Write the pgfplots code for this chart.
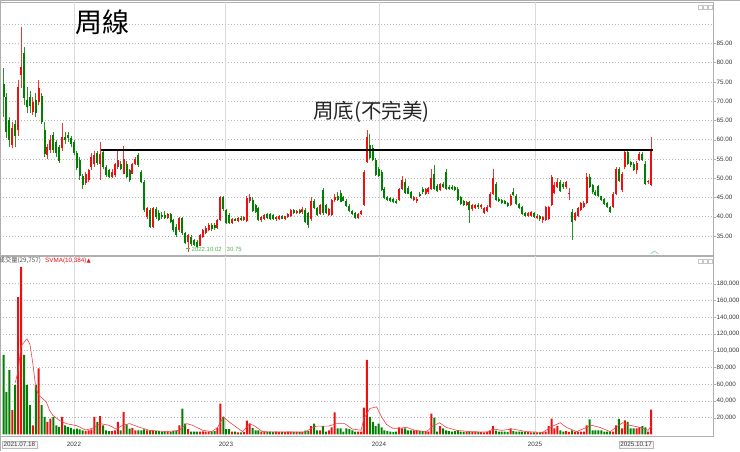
\documentclass[border=0pt]{standalone}
\usepackage{fontspec}
\setmainfont{Liberation Sans}
\newfontfamily\cjk{Noto Sans CJK TC}
\newfontfamily\dejavu{DejaVu Sans}
\usepackage{pgfplots}
\usepackage{pgfplotstable}
\pgfplotsset{compat=1.18}
\definecolor{cred}{RGB}{238,16,16}
\definecolor{cgrn}{RGB}{0,128,0}
\definecolor{gridgray}{RGB}{185,185,185}
\definecolor{framegray}{RGB}{175,175,175}
\definecolor{lowgrn}{RGB}{80,180,80}

% weekly candles: week index, open, high, low, close, volume (thousand lots)
\pgfplotstableread{
i O H L C V
0 74.5 78.5 66.0 71.0 95
1 71.0 72.0 60.5 62.0 51
2 65.0 66.0 58.0 60.0 77
3 58.5 64.5 57.8 63.0 29
4 64.0 65.0 58.0 61.0 59
5 62.5 75.5 61.0 73.7 164
6 76.8 89.3 73.5 78.9 200
7 82.4 84.0 69.0 70.7 95
8 70.3 73.7 66.8 68.6 59
9 71.0 72.5 67.0 68.8 35
10 67.3 71.0 66.5 69.9 11
11 70.3 72.0 66.0 66.8 59
12 69.9 75.5 69.0 73.3 79
13 71.2 72.0 64.0 64.7 35
14 62.5 64.7 55.6 56.4 21
15 56.0 59.0 54.9 58.2 15
16 57.3 61.2 56.5 59.9 19
17 61.2 62.0 56.5 57.3 21
18 59.5 60.0 55.5 56.5 11
19 58.0 58.5 54.0 54.5 9
20 57.9 64.3 57.0 60.7 21
21 60.8 62.0 59.0 60.0 11
22 61.2 62.0 59.5 60.5 9
23 60.5 61.0 58.0 59.0 8
24 59.5 60.0 56.0 56.5 6
25 56.5 57.0 52.0 52.7 7
26 54.7 55.5 49.5 50.5 6
27 50.5 51.0 47.3 48.3 5
28 48.8 51.5 48.3 51.0 4
29 49.5 52.5 49.0 52.1 5
30 53.0 56.5 52.0 55.6 6
31 53.8 57.0 53.0 56.0 21
32 56.5 57.0 53.5 54.0 15
33 53.8 59.5 49.5 56.4 22
34 56.9 57.3 52.5 53.0 11
35 53.0 53.5 50.3 50.8 5
36 52.1 52.5 50.0 50.4 4
37 50.4 52.5 50.0 51.7 4
38 50.8 54.0 50.3 53.8 5
39 53.0 57.3 52.5 54.7 15
40 53.8 54.5 52.0 52.5 5
41 51.2 58.4 51.0 55.1 27
42 53.8 54.5 50.0 50.4 12
43 52.1 52.5 49.0 49.5 7
44 51.2 54.0 51.0 53.8 8
45 53.8 55.5 53.5 55.1 5
46 56.0 56.6 53.0 53.4 5
47 51.7 52.0 48.8 49.1 5
48 49.1 49.5 41.3 41.7 6
49 40.0 42.5 39.5 42.2 5
50 41.7 42.2 37.0 37.4 5
51 37.4 42.5 37.0 42.2 4
52 42.0 42.5 39.5 40.0 4
53 40.9 41.8 38.8 39.1 4
54 40.5 41.3 39.5 40.0 3
55 40.4 41.5 39.5 39.6 3
56 39.6 41.0 39.3 40.8 3
57 40.6 41.0 38.3 38.6 3
58 39.1 39.5 36.0 36.5 4
59 37.4 38.0 34.8 35.2 4
60 36.5 40.0 36.0 39.6 11
61 39.6 40.0 35.3 35.7 31
62 35.7 36.0 32.8 33.1 13
63 33.5 35.6 30.75 35.2 6.5
64 34.8 35.2 32.5 32.9 3.5
65 33.9 34.2 32.3 32.7 3.4
66 33.5 34.0 31.8 32.2 3.3
67 32.5 35.5 32.3 35.2 3.5
68 34.8 36.8 34.5 36.5 3.6
69 35.8 37.5 35.5 37.1 3.4
70 36.5 38.3 36.2 37.8 3.5
71 37.8 38.5 36.3 36.8 3.4
72 37.8 38.3 36.5 37.0 4
73 37.0 39.5 36.8 39.1 8
74 39.1 45.5 38.8 45.2 37
75 45.2 45.5 41.5 42.0 21
76 41.7 42.0 38.0 38.3 6.5
77 40.5 41.0 38.0 38.5 6.5
78 38.5 39.6 38.2 39.3 3.4
79 39.4 39.8 38.8 39.0 3.4
80 39.0 40.0 38.7 39.8 2.6
81 39.8 40.1 39.0 39.2 2.6
82 39.2 40.2 38.9 40.0 3
83 39.0 45.5 38.7 44.8 16.5
84 44.0 45.8 43.6 45.0 13
85 44.3 45.2 41.2 41.4 7.5
86 43.0 43.3 41.0 41.3 5
87 42.2 42.5 38.8 39.1 5
88 39.1 40.3 38.7 40.0 3.5
89 39.5 40.6 39.2 40.4 3.3
90 40.8 41.0 39.5 39.8 3.2
91 40.6 40.9 39.2 39.5 3.3
92 40.4 40.7 39.2 39.5 3.0
93 39.3 40.3 39.0 40.0 3.4
94 39.4 40.4 39.1 40.1 3.2
95 40.2 40.5 39.3 39.5 3.0
96 39.5 40.3 39.2 40.1 3.1
97 40.0 41.0 39.7 40.6 3.3
98 40.3 41.9 40.0 41.7 3.4
99 41.7 42.0 40.8 41.0 3.0
100 41.0 41.8 40.8 41.5 3.2
101 41.7 42.0 40.8 41.0 2.9
102 41.1 42.5 40.8 42.0 3.2
103 41.7 42.2 38.5 38.7 4.5
104 40.9 41.3 37.0 37.8 4.0
105 39.5 45.0 39.0 44.2 10
106 44.2 44.5 42.0 42.3 13
107 42.2 42.5 40.2 40.4 5
108 40.8 43.2 40.5 43.0 5
109 46.9 47.5 40.5 40.9 10
110 43.0 43.4 40.8 41.0 3.4
111 40.4 42.3 40.1 42.0 5
112 40.4 44.6 40.1 44.3 8.6
113 44.3 46.0 43.8 45.2 26.5
114 45.5 46.3 44.0 44.3 7.4
115 46.1 47.0 43.7 43.9 7.4
116 45.0 45.5 44.0 44.2 3.4
117 44.2 44.5 42.6 42.9 7.4
118 42.9 43.2 41.2 41.5 6.5
119 41.5 41.8 40.5 40.7 5
120 40.9 41.2 39.5 39.8 3.4
121 39.6 41.0 39.3 40.8 3.4
122 40.8 41.7 40.4 41.5 3.4
123 43.0 52.0 42.7 51.7 32
124 54.3 62.5 54.0 60.8 89
125 58.6 61.5 55.0 55.3 21
126 57.8 58.5 54.5 54.8 15
127 54.7 55.3 50.5 50.8 10
128 52.5 53.0 50.3 50.6 13
129 51.7 52.0 46.6 46.9 8.6
130 47.3 47.6 44.5 44.8 5
131 45.2 45.5 44.0 44.3 4
132 44.8 45.1 43.9 44.2 3.4
133 44.5 44.8 43.6 43.9 3
134 44.2 44.5 43.3 43.6 3.4
135 44.3 47.5 44.0 47.3 8.6
136 47.3 50.5 47.0 49.5 7.4
137 49.1 49.8 45.8 46.1 7.4
138 47.5 48.0 45.8 46.0 5
139 46.5 46.8 44.5 44.8 5
140 44.3 45.5 44.0 45.2 5
141 44.0 45.0 43.5 44.6 4.5
142 46.0 46.3 45.0 45.3 4
143 47.3 47.6 46.0 46.3 4
144 46.0 47.5 45.7 47.3 3.5
145 46.3 47.8 46.0 47.5 3.5
146 47.3 52.5 47.0 50.0 25
147 51.2 53.5 47.0 47.3 20
148 48.0 48.5 46.5 46.8 3.4
149 47.0 48.8 46.7 48.5 10
150 48.5 49.0 47.5 47.7 7.4
151 51.5 52.5 47.0 47.3 5
152 47.8 48.3 47.0 47.3 4
153 47.8 48.2 47.0 47.2 3.4
154 47.8 48.0 46.8 47.0 4
155 47.3 47.6 44.0 44.3 5
156 45.0 45.3 43.0 43.3 3.4
157 44.0 44.3 42.8 43.0 3
158 43.0 44.0 42.7 43.8 3
159 43.9 44.2 38.5 41.7 3.4
160 42.0 43.4 41.6 43.0 3
161 42.2 43.2 42.0 43.0 3
162 43.0 43.5 42.0 42.4 2.8
163 42.4 43.3 42.0 43.1 2.8
164 41.0 42.5 40.7 42.2 2.6
165 41.5 43.0 41.2 42.6 3
166 42.6 46.3 42.3 46.0 4
167 46.0 52.5 45.7 50.0 10
168 48.5 49.0 44.0 44.3 4.5
169 44.6 45.0 43.8 44.0 3.4
170 44.3 44.6 43.3 43.6 3.4
171 44.0 44.3 43.2 43.4 3.4
172 43.6 43.9 42.6 42.9 3
173 43.0 45.8 42.7 45.5 7.4
174 46.3 47.5 45.3 45.6 4
175 45.5 45.8 43.0 43.3 3.4
176 43.3 43.6 42.0 42.3 3.4
177 42.5 42.8 40.5 40.8 3.4
178 41.0 41.3 40.0 40.3 3
179 40.3 41.3 40.0 41.0 2.8
180 40.3 41.5 40.0 41.2 2.6
181 41.0 41.3 39.7 40.0 2.6
182 39.6 40.6 39.3 40.3 2.6
183 40.2 40.5 39.0 39.3 2.6
184 39.2 40.2 38.3 40.0 2.8
185 39.2 42.8 38.9 42.5 3.4
186 39.5 42.8 39.2 42.6 10
187 43.0 50.7 42.7 50.4 19
188 46.1 49.0 45.8 48.2 7.4
189 47.8 50.0 47.5 49.1 10
190 49.1 49.5 46.3 46.6 5
191 48.5 49.0 47.3 47.6 3.4
192 47.6 49.4 47.3 49.1 4
193 45.8 47.5 44.3 46.2 3
194 41.3 42.0 34.0 38.7 5
195 39.1 41.2 38.8 40.9 3.4
196 40.2 42.5 39.9 42.2 3.4
197 41.7 43.8 41.4 43.5 3.4
198 42.5 44.0 42.2 43.6 3.4
199 43.5 51.3 43.2 50.4 11
200 50.4 51.0 47.5 47.8 18
201 48.3 48.6 46.0 46.3 5
202 46.5 47.0 45.3 45.6 5
203 48.0 48.2 45.0 45.3 5
204 45.3 45.5 44.1 44.3 5
205 44.6 44.9 43.1 43.4 3.4
206 43.5 43.8 42.3 42.6 3.4
207 42.5 42.8 41.0 41.3 3.4
208 42.6 46.3 42.3 46.0 3.4
209 46.0 53.0 45.7 52.5 11
210 52.5 53.0 49.0 49.2 18.5
211 47.0 51.5 46.5 51.2 7.4
212 53.0 57.5 52.5 56.9 17
213 56.9 57.7 53.5 53.8 15
214 54.2 54.5 53.0 53.3 7.4
215 53.8 54.1 51.8 52.1 7.4
216 52.1 54.5 51.0 54.0 7.4
217 54.7 56.8 54.4 56.4 8.6
218 56.4 56.8 54.4 54.7 10
219 53.8 54.5 48.3 48.6 8.6
220 48.9 49.5 48.5 49.2 3.4
221 48.2 60.8 48.0 57.7 29.757
}\candles

\pgfplotsset{
  chartbase/.style={
    scale only axis, anchor=south west, width=713pt,
    xmin=-1.2, xmax=242.1,
    axis line style={draw=framegray},
    xtick=\empty,
    ymajorgrids,
    y grid style={gridgray, dash pattern=on 1pt off 2pt, line width=0.6pt},
    ytick pos=right, yticklabel pos=right,
    tick align=outside, major tick length=2.5pt,
    y tick style={framegray},
    tick label style={font=\fontsize{6.3}{7}\selectfont, text=black!78},
    yticklabel style={inner sep=1pt, anchor=west},
    /pgf/number format/assume math mode=true,
  },
  wick/.style={draw=none, mark=none, forget plot,
    error bars/.cd, y dir=plus, y explicit, error mark=none,
    error bar style={line width=0.7pt, draw=#1}},
  body/.style={draw=none, mark=none, forget plot,
    error bars/.cd, y dir=plus, y explicit, error mark=none,
    error bar style={line width=2pt, draw=#1}},
}

\begin{document}
\begin{tikzpicture}[x=1pt,y=1pt]
\path[use as bounding box] (0,0) rectangle (740,451);
\clip (0,0) rectangle (740,451);
\fill[white] (0,0) rectangle (740,451);

%% price panel
\begin{axis}[chartbase, at={(0pt,196pt)}, height=253pt,
    ymin=30.07, ymax=95.72,
    ytick={35,40,...,85},
    yticklabels={35.00,40.00,45.00,50.00,55.00,60.00,65.00,70.00,75.00,80.00,85.00},
  ]
  \foreach \yr in {24.06,75.6,128.3,181.4}{
    \edef\tmp{\noexpand\draw[gray!28, line width=0.6pt] (axis cs:\yr,30.07) -- (axis cs:\yr,95.72);}
    \tmp
  }
  \addplot[gridgray, dash pattern=on 1pt off 2pt, line width=0.6pt, forget plot]
    coordinates {(-1.2,90) (242.1,90)};
  % wicks
  \addplot[wick=cred!85] table[x=i,
      y expr={\thisrow{C}>=\thisrow{O} ? \thisrow{L} : nan},
      y error plus expr={\thisrow{H}-\thisrow{L}}] {\candles};
  \addplot[wick=cgrn!85] table[x=i,
      y expr={\thisrow{C}<\thisrow{O} ? \thisrow{L} : nan},
      y error plus expr={\thisrow{H}-\thisrow{L}}] {\candles};
  % bodies
  \addplot[body=cred] table[x=i,
      y expr={\thisrow{C}>=\thisrow{O} ? \thisrow{O} : nan},
      y error plus expr={\thisrow{C}-\thisrow{O}}] {\candles};
  \addplot[body=cgrn] table[x=i,
      y expr={\thisrow{C}<\thisrow{O} ? \thisrow{C} : nan},
      y error plus expr={\thisrow{O}-\thisrow{C}}] {\candles};
  % neckline
  \addplot[black, line width=1.2pt, forget plot] coordinates {(33.4,57.3) (221.5,57.3)};
\end{axis}

%% volume panel
\begin{axis}[chartbase, at={(0pt,15pt)}, height=180pt,
    ymin=-1.8, ymax=213.1,
    ytick={20,40,...,180},
    yticklabels={{20,000},{40,000},{60,000},{80,000},{100,000},{120,000},{140,000},{160,000},{180,000}},
  ]
  \foreach \yr in {24.06,75.6,128.3,181.4}{
    \edef\tmp{\noexpand\draw[gray!28, line width=0.6pt] (axis cs:\yr,-1.8) -- (axis cs:\yr,213.1);}
    \tmp
  }
  \addplot[ybar, bar width=2pt, bar shift=0pt, fill=cred, draw=none, forget plot]
    table[x=i, y expr={\thisrow{C}>=\thisrow{O} ? \thisrow{V} : nan}] {\candles};
  \addplot[ybar, bar width=2pt, bar shift=0pt, fill=cgrn, draw=none, forget plot]
    table[x=i, y expr={\thisrow{C}<\thisrow{O} ? \thisrow{V} : nan}] {\candles};
  % SVMA
  \addplot[cred!80, line width=0.6pt, forget plot] coordinates {
    (4,62) (5,76) (6,106) (7,110) (8,114) (9,108) (10,85) (11,56) (12,47) (13,44)
    (14.6,39) (15.7,29) (16.8,23) (19,17) (21.4,13) (25,10.5) (28,5.4) (30.4,7.4)
    (33,13) (36,11) (38.5,6.5) (40.6,11) (43,13) (46.4,8.6) (49.8,5) (55.6,3.4)
    (60,5) (62.5,13) (64.5,11) (68,5) (71,3.4) (73,8) (75,21) (77,15) (79.5,8.6)
    (81.6,3.4) (84,13) (85.7,10) (88.4,3.4) (92,3) (100,3) (103,3) (105,7.4)
    (106.8,10) (111,10) (113.6,13) (116.4,13) (119,6.5) (122,5) (123,19) (125,31)
    (127.3,33) (129,21) (130.7,12) (132.8,7.4) (135,7.4) (137.5,8.6) (140.3,5)
    (144.4,3.4) (146.4,10) (148.8,14) (151,8.6) (154.6,5) (159,3.4) (165,3)
    (167,6.5) (170,5) (173.7,6.5) (178.5,3.4) (184,2.6) (187.4,10) (190,14)
    (192,8.6) (195.6,3.4) (199,8.6) (200.6,11) (203.4,8.6) (207,3.4) (209,8.6)
    (211.3,14) (213.7,11) (217,8.6) (220,5) (221,10.4)
  };
\end{axis}

%% frame touches
\fill[black!32] (0,449.6) rectangle (740,451);
\draw[framegray] (0.5,0) -- (0.5,451);

%% texts
\node[font=\cjk\fontsize{27}{30}\selectfont, text=black] at (102,429) {周線};
\node[font=\cjk\fontsize{20.5}{24}\selectfont, text=black!85] at (371.5,339) {周底(不完美)};
\draw[lowgrn, line width=0.6pt] (186,202.3) -- (190,202.3);
\node[font=\fontsize{6}{7}\selectfont, text=lowgrn, anchor=west, inner sep=0pt] at (191.5,202)
  {2022.10.02\hspace{5pt}30.75};

\node[font=\cjk\fontsize{6.3}{7}\selectfont, text=black!70, anchor=west, inner sep=0pt] at (-1.5,190.3)
  {成交量(29,757)};
\node[font=\fontsize{6.3}{7}\selectfont, text=cred, anchor=west, inner sep=0pt] at (45,190.3)
  {SVMA(10,384){\dejavu\fontsize{5.5}{6}\selectfont ▲}};

% small panel icons
\foreach \xx in {698,703,708}{
  \draw[gray!45, line width=0.4pt] (\xx,442) rectangle ++(4,4);
  \draw[gray!45, line width=0.4pt] (\xx,188) rectangle ++(4,4);
}
% caret marker
\draw[teal!45, line width=0.6pt] (650.5,197.2) -- (654.5,200) -- (658.5,197.2);

% x labels
\foreach \xx/\lab in {74/2022, 226/2023, 379/2024, 535/2025}{
  \node[font=\fontsize{6.3}{7}\selectfont, text=black!78] at (\xx,6.3) {\lab};
}
\node[draw=gray!55, fill=gray!8, font=\fontsize{6.3}{7}\selectfont, text=black!78,
      inner xsep=1.5pt, inner ysep=1.5pt, anchor=west] at (2,6.5) {2021.07.18};
\node[draw=gray!55, fill=gray!8, font=\fontsize{6.3}{7}\selectfont, text=black!78,
      inner xsep=1.5pt, inner ysep=1.5pt, anchor=east] at (653.5,6.5) {2025.10.17};
\end{tikzpicture}
\end{document}
